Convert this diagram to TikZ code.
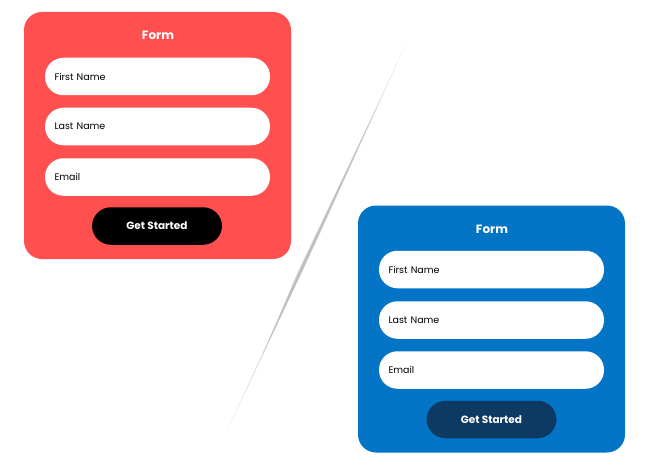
\documentclass[tikz,border=0pt]{standalone}
\usepackage{fontspec}
\setmainfont{Poppins}
\usetikzlibrary{positioning}
\definecolor{formred}{HTML}{FF4F4F}
\definecolor{formblue}{HTML}{0474C6}
\definecolor{btnnavy}{HTML}{0D3A63}
\tikzset{
  card/.style={rounded corners=18pt, minimum width=267pt, minimum height=247pt, inner sep=0pt},
  field/.style={fill=white, rounded corners=18.5pt, minimum width=225pt, minimum height=37.5pt,
    text width=206pt, inner xsep=0pt, align=left, font=\fontsize{9.5pt}{11pt}\selectfont, text=black},
  button/.style={rounded corners=19pt, minimum width=130pt, minimum height=37.5pt,
    font=\fontsize{10.5pt}{12pt}\selectfont\bfseries, text=white},
  heading/.style={font=\fontsize{12pt}{14pt}\selectfont\bfseries, text=white}
}
\begin{document}
\begin{tikzpicture}[x=1pt,y=-1pt]
  \useasboundingbox (0,0) rectangle (655,468);

  % divider
  \fill[gray!45, opacity=.6] (406,44) -- (318,238) -- (227,431) -- (316,236) -- cycle;
  \fill[gray!60, opacity=.7] (380,100) -- (300,276) -- (262,356) -- (297,274) -- cycle;

  % red form
  \node[card, fill=formred] (redcard) at (157.5,135.5) {};
  \node[heading] (redtitle) at (158,35) {Form};
  \node[field] (redfirst) at (157.5,76.5) {First Name};
  \node[field] (redlast)  at (157.5,126.5) {Last Name};
  \node[field] (redmail)  at (157.5,177) {Email};
  \node[button, fill=black] (redbtn) at (157,226) {Get Started};

  % blue form
  \node[card, fill=formblue] (bluecard) at (491.5,329) {};
  \node[heading] (bluetitle) at (492,229) {Form};
  \node[field] (bluefirst) at (491.5,269.5) {First Name};
  \node[field] (bluelast)  at (491.5,320) {Last Name};
  \node[field] (bluemail)  at (491.5,370) {Email};
  \node[button, fill=btnnavy] (bluebtn) at (491.5,419.5) {Get Started};
\end{tikzpicture}
\end{document}
